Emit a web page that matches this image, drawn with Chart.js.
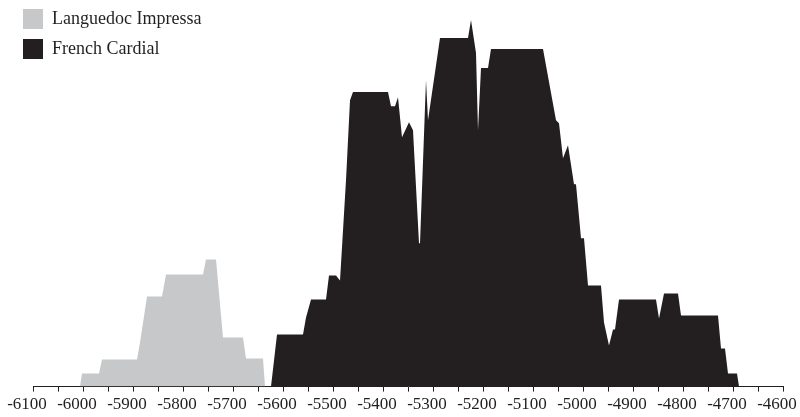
<!DOCTYPE html>
<html lang="en">
  <head>
    <meta charset="UTF-8" />
    <title>Languedoc Impressa and French Cardial dates</title>
    <script src="https://cdn.jsdelivr.net/npm/chart.js"></script>
    <style>
      body { margin: 0; background: #fff; }
    </style>
  </head>
  <body>
    <canvas id="datesChart" width="800" height="417"></canvas>

    <script>
      // years (cal BC, negative) and summed density
      const impressaYears = [-6006, -6002, -5968, -5962, -5892, -5886, -5872, -5842, -5834, -5760, -5754, -5734, -5720, -5680, -5674, -5640, -5636];
      const impressaValues = [0, 13, 13, 27, 27, 44, 90, 90, 112, 112, 127, 127, 49, 49, 28, 28, 0];

      const cardialYears = [
        -5624, -5612, -5560, -5554, -5544, -5514, -5508, -5494, -5486, -5474,
        -5466, -5460, -5390, -5384, -5376, -5370, -5362, -5348, -5340, -5328,
        -5326, -5314, -5310, -5286, -5230, -5224, -5214, -5210, -5204, -5190,
        -5184, -5080, -5054, -5048, -5040, -5030, -5018, -5014, -5004, -4998,
        -4990, -4964, -4958, -4948, -4940, -4936, -4928, -4854, -4848, -4838,
        -4810, -4804, -4730, -4724, -4716, -4710, -4692, -4688,
      ];
      const cardialValues = [
        0, 52, 52, 69, 87, 87, 111, 111, 106, 206,
        286, 294, 294, 280, 280, 289, 249, 264, 256, 143,
        143, 306, 266, 348, 348, 366, 333, 256, 318, 318,
        337, 337, 266, 263, 228, 241, 202, 202, 148, 148,
        101, 101, 64, 41, 57, 57, 87, 87, 68, 93,
        93, 71, 71, 38, 38, 13, 13, 0,
      ];

      const xMin = -6100;
      const xMax = -4600;
      const ink = "#231f20";

      function toPoints(xs, ys) {
        return xs.map((x, i) => ({ x: x, y: ys[i] }));
      }

      // put the stacked legend in the top-left corner of the plot
      const legendCorner = {
        id: "legendCorner",
        afterLayout(chart) {
          chart.legend.left = 13;
          chart.legend.top = -1;
        },
      };

      const ctx = document.getElementById("datesChart").getContext("2d");
      new Chart(ctx, {
        type: "line",
        data: {
          datasets: [
            {
              label: "Languedoc Impressa",
              data: toPoints(impressaYears, impressaValues),
              backgroundColor: "#c7c8ca",
              borderColor: "#c7c8ca",
              borderWidth: 0,
              fill: "origin",
              pointRadius: 0,
              tension: 0,
            },
            {
              label: "French Cardial",
              data: toPoints(cardialYears, cardialValues),
              backgroundColor: ink,
              borderColor: ink,
              borderWidth: 0,
              fill: "origin",
              pointRadius: 0,
              tension: 0,
            },
          ],
        },
        options: {
          responsive: false,
          animation: false,
          layout: { padding: { left: 33, right: 17, top: 16, bottom: -1 } },
          plugins: {
            tooltip: { enabled: false },
            legend: {
              position: "chartArea",
              align: "start",
              labels: {
                boxWidth: 20,
                boxHeight: 20,
                padding: 10,
                color: ink,
                font: { family: "'Liberation Serif', 'Times New Roman', serif", size: 18 },
              },
            },
          },
          scales: {
            x: {
              type: "linear",
              min: xMin,
              max: xMax,
              // labels may hang past the plot edges; keep the padding fixed
              afterFit: (scale) => {
                scale.paddingLeft = 0;
                scale.paddingRight = 0;
              },
              border: { display: true, color: ink, width: 1 },
              grid: {
                drawOnChartArea: false,
                drawTicks: true,
                tickLength: 5,
                color: ink,
              },
              ticks: {
                stepSize: 50,
                autoSkip: false,
                maxRotation: 0,
                labelOffset: -6,
                color: ink,
                font: { family: "'Liberation Serif', 'Times New Roman', serif", size: 17 },
                callback: (v) => (v % 100 === 0 ? String(v) : ""),
              },
            },
            y: {
              display: false,
              min: 0,
              max: 370,
            },
          },
        },
        plugins: [legendCorner],
      });
    </script>
  </body>
</html>
